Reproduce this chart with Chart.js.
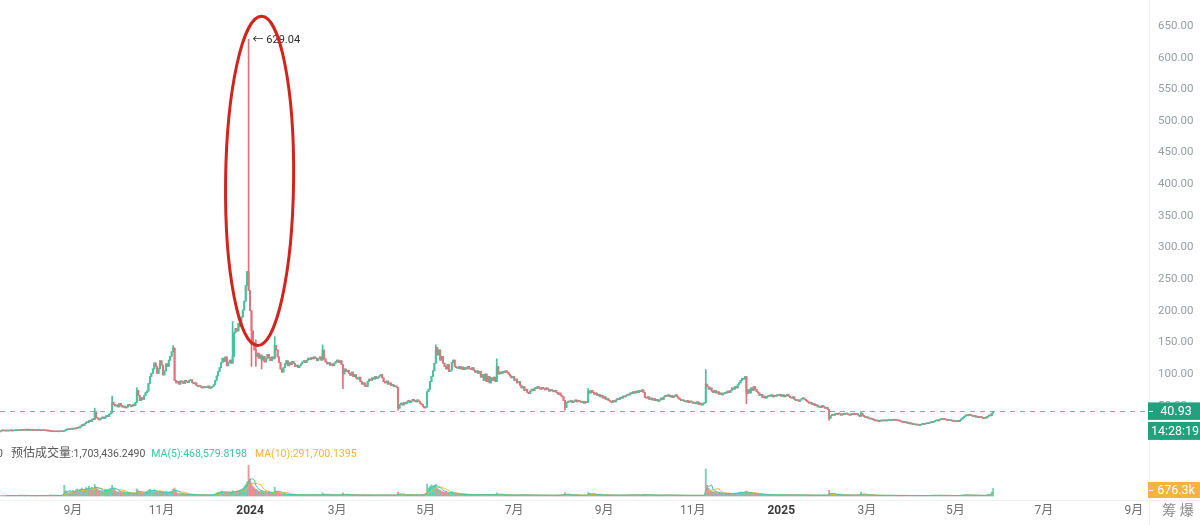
<!DOCTYPE html>
<html>
<head>
<meta charset="utf-8">
<script src="https://cdn.jsdelivr.net/npm/chart.js@4.4.1/dist/chart.umd.min.js"></script>
<style>
html, body { margin: 0; padding: 0; background: #fff; }
#wrap { width: 1200px; height: 525px; }
</style>
</head>
<body>
<div id="wrap"><canvas id="chart" width="1200" height="525"></canvas></div>
<script>
// one candle per day, day 0 = 2023-07-13
const closes = [
    10.2, 10.1, 10.3, 10.2, 10.0, 10.1, 10.4, 10.3, 10.2, 10.5,
    10.6, 10.8, 10.7, 11.0, 11.2, 11.1, 11.3, 11.2, 11.4, 11.3,
    11.1, 11.2, 11.0, 10.9, 11.0, 10.8, 10.9, 10.7, 10.6, 10.8,
    10.5, 10.4, 10.2, 10.0, 9.6, 9.2, 9.0, 8.8, 8.9, 8.7,
    8.8, 9.0, 8.9, 9.3, 10.5, 11.8, 12.6, 12.2, 13.0, 12.8,
    13.5, 13.2, 14.0, 15.8, 14.9, 17.5, 19.6, 18.8, 21.5, 24.0,
    23.1, 26.8, 25.0, 28.5, 28.0, 40.0, 31.0, 29.0, 27.5, 30.2,
    32.0, 29.5, 31.8, 34.5, 33.0, 36.8, 38.5, 55.0, 52.0, 49.5,
    51.0, 48.0, 53.5, 50.5, 47.8, 49.2, 46.5, 48.0, 52.0, 50.0,
    48.5, 51.5, 50.2, 55.0, 74.0, 66.0, 58.0, 62.5, 60.0, 66.0,
    70.5, 73.0, 85.0, 96.0, 101.0, 108.0, 117.5, 112.0, 101.0, 108.5,
    121.0, 114.0, 98.5, 105.0, 116.0, 112.0, 122.0, 128.0, 135.0, 141.0,
    90.0, 86.0, 88.5, 84.0, 89.0, 87.5, 85.0, 90.0, 88.0, 86.5,
    89.5, 91.0, 87.0, 84.5, 86.0, 82.0, 80.0, 81.5, 79.5, 78.0,
    80.0, 78.5, 79.0, 81.0, 77.5, 79.0, 80.5, 83.0, 90.0, 97.0,
    104.0, 110.0, 118.0, 125.0, 120.0, 127.0, 113.0, 118.0, 122.0, 117.0,
    128.0, 165.0, 172.0, 168.0, 180.0, 175.0, 190.0, 201.0, 215.0, 240.0,
    262.0, 232.0, 200.0, 168.0, 150.0, 138.0, 128.0, 133.0, 125.0, 130.0,
    122.0, 128.0, 119.0, 124.0, 131.0, 126.0, 121.0, 127.0, 124.0, 145.0,
    138.0, 127.0, 118.0, 108.0, 103.0, 110.0, 116.0, 121.0, 113.0, 118.0,
    115.0, 120.0, 117.0, 112.0, 114.0, 110.0, 113.0, 116.0, 119.0, 121.0,
    118.0, 122.0, 125.0, 123.0, 126.0, 124.0, 127.0, 125.0, 121.0, 124.0,
    127.0, 122.0, 138.0, 124.0, 119.0, 116.0, 118.0, 114.0, 116.0, 113.0,
    117.0, 120.0, 122.0, 118.0, 121.0, 115.0, 100.0, 108.0, 104.0, 106.0,
    101.0, 98.0, 103.0, 96.0, 99.0, 94.0, 92.0, 95.0, 88.0, 84.0,
    86.0, 81.0, 80.0, 88.0, 92.0, 90.0, 94.0, 92.0, 96.0, 93.0,
    95.0, 97.0, 99.0, 94.0, 88.0, 86.0, 89.0, 84.0, 86.0, 82.0,
    83.0, 80.0, 81.0, 79.0, 46.0, 52.0, 54.0, 51.0, 55.0, 53.0,
    56.0, 58.0, 55.0, 57.0, 60.0, 58.0, 56.0, 59.0, 57.0, 54.0,
    52.0, 49.0, 46.5, 48.0, 72.0, 76.0, 88.0, 96.0, 105.0, 117.0,
    142.0, 130.0, 138.0, 122.0, 128.0, 117.0, 112.0, 108.0, 115.0, 104.0,
    106.0, 118.0, 122.0, 112.0, 110.0, 109.0, 112.0, 108.0, 111.0, 107.0,
    110.0, 108.0, 112.0, 109.0, 107.0, 110.0, 106.0, 103.0, 105.0, 101.0,
    104.0, 95.0, 99.0, 90.0, 100.0, 88.0, 96.0, 86.0, 94.0, 90.0,
    95.0, 88.0, 112.0, 100.0, 103.0, 101.0, 104.0, 102.0, 105.0, 103.0,
    100.0, 97.0, 94.0, 96.0, 90.0, 92.0, 86.0, 88.0, 82.0, 78.0,
    80.0, 74.0, 76.0, 71.0, 69.0, 73.0, 76.0, 74.0, 78.0, 77.0,
    80.0, 78.0, 76.0, 79.0, 77.0, 75.0, 78.0, 76.0, 73.0, 75.0,
    74.0, 72.0, 74.0, 71.0, 68.0, 70.0, 66.0, 64.0, 58.0, 47.0,
    55.0, 57.0, 56.0, 58.0, 55.0, 57.0, 59.0, 56.0, 58.0, 57.0,
    55.0, 57.0, 54.0, 56.0, 55.0, 73.0, 70.0, 74.0, 71.0, 68.0,
    70.0, 66.0, 68.0, 64.0, 66.0, 62.0, 64.0, 60.0, 61.0, 58.0,
    57.0, 55.0, 58.0, 56.0, 59.0, 61.0, 60.0, 63.0, 62.0, 65.0,
    64.0, 66.0, 68.0, 67.0, 70.0, 69.0, 72.0, 70.0, 73.0, 71.0,
    74.0, 72.0, 75.0, 71.0, 63.0, 62.0, 64.0, 60.0, 62.0, 59.0,
    61.0, 58.0, 60.0, 57.0, 59.0, 62.0, 60.0, 64.0, 66.0, 65.0,
    67.0, 64.0, 66.0, 63.0, 65.0, 67.0, 64.0, 62.0, 60.0, 58.0,
    59.0, 57.0, 56.0, 58.0, 55.0, 57.0, 56.0, 54.0, 55.0, 53.0,
    56.0, 52.0, 54.0, 51.0, 53.0, 55.0, 84.0, 80.0, 76.0, 78.0,
    73.0, 71.0, 74.0, 70.0, 72.0, 68.0, 70.0, 67.0, 69.0, 71.0,
    70.0, 73.0, 71.0, 74.0, 78.0, 76.0, 80.0, 78.0, 83.0, 86.0,
    90.0, 93.0, 92.0, 96.0, 69.0, 75.0, 70.0, 78.0, 74.0, 80.0,
    76.0, 72.0, 70.0, 66.0, 68.0, 63.0, 65.0, 62.0, 64.0, 66.0,
    65.0, 67.0, 64.0, 66.0, 65.0, 67.0, 66.0, 68.0, 65.0, 67.0,
    64.0, 66.0, 68.0, 65.0, 63.0, 62.0, 64.0, 60.0, 58.0, 59.0,
    57.0, 59.0, 61.0, 62.0, 60.0, 58.0, 56.0, 54.0, 55.0, 52.0,
    53.0, 50.0, 51.0, 48.0, 49.0, 47.0, 50.0, 48.0, 46.0, 47.0,
    44.0, 30.0, 34.0, 36.0, 35.0, 37.0, 36.0, 38.0, 37.0, 35.0,
    37.0, 36.0, 38.0, 37.0, 36.0, 35.0, 37.0, 36.0, 38.0, 36.0,
    37.0, 35.0, 33.0, 38.0, 34.0, 33.0, 31.0, 32.0, 30.0, 29.0,
    30.0, 28.0, 27.0, 26.0, 27.0, 25.0, 26.0, 27.0, 26.0, 27.0,
    26.0, 27.0, 27.5, 26.5, 27.0, 28.0, 27.0, 27.5, 26.5, 26.0,
    25.5, 24.0, 25.0, 23.0, 24.0, 22.0, 23.0, 21.0, 21.5, 20.0,
    20.5, 19.5, 20.0, 19.0, 20.0, 21.0, 20.5, 21.5, 22.0, 21.5,
    23.0, 24.0, 23.5, 25.0, 26.0, 27.0, 26.0, 28.0, 29.0, 28.0,
    29.0, 28.0, 27.0, 28.0, 26.5, 27.0, 25.5, 26.0, 25.0, 26.0,
    25.0, 27.0, 29.0, 31.0, 33.0, 35.0, 34.0, 36.0, 35.0, 34.0,
    33.0, 34.0, 32.0, 33.0, 31.0, 32.0, 31.5, 30.0, 31.0, 30.5,
    33.0, 35.0, 34.0, 38.0, 40.93
];

// daily volume, thousands
const volumes = [
    90, 120, 80, 100, 70, 110, 140, 95, 85, 130,
    150, 120, 100, 160, 180, 110, 130, 90, 140, 100,
    80, 110, 90, 70, 100, 85, 120, 95, 80, 100,
    110, 90, 130, 150, 200, 180, 140, 120, 100, 90,
    110, 100, 130, 250, 2400, 1200, 900, 700, 1000, 800,
    1300, 900, 1400, 1600, 1100, 1500, 1800, 1200, 1500, 1900,
    1700, 2200, 1500, 1900, 1400, 2600, 2000, 1500, 1200, 1300,
    1100, 1000, 1300, 1500, 1200, 1600, 1700, 2400, 1800, 1200,
    1000, 900, 1100, 800, 700, 900, 600, 700, 800, 600,
    500, 600, 500, 700, 1600, 1200, 800, 700, 600, 800,
    900, 1000, 1300, 1500, 1200, 1100, 1400, 1000, 900, 800,
    1000, 900, 800, 700, 900, 700, 800, 900, 1100, 1500,
    1800, 900, 600, 500, 600, 400, 500, 400, 350, 400,
    300, 350, 300, 250, 280, 300, 250, 200, 220, 260,
    240, 200, 220, 250, 230, 260, 300, 350, 500, 700,
    800, 900, 1000, 1100, 800, 900, 700, 800, 900, 700,
    1200, 900, 1000, 1100, 1200, 1300, 1500, 1700, 2200, 2600,
    3200, 6900, 3800, 2900, 2100, 1800, 1500, 1300, 1100, 1000,
    1200, 900, 800, 900, 700, 800, 600, 700, 600, 2000,
    1100, 800, 700, 600, 500, 400, 450, 400, 350, 300,
    300, 280, 260, 300, 250, 270, 240, 260, 300, 280,
    260, 240, 280, 250, 300, 270, 250, 240, 230, 260,
    280, 300, 700, 400, 300, 250, 270, 240, 230, 220,
    240, 260, 250, 230, 220, 240, 700, 400, 300, 280,
    260, 250, 240, 270, 230, 220, 240, 210, 230, 250,
    220, 240, 230, 210, 200, 220, 190, 210, 200, 190,
    200, 210, 190, 220, 240, 210, 200, 220, 190, 210,
    200, 190, 210, 220, 900, 500, 350, 300, 260, 240,
    220, 250, 230, 210, 240, 220, 200, 230, 210, 250,
    260, 300, 400, 600, 2700, 1800, 2200, 2500, 2000, 2400,
    2600, 1700, 1500, 1300, 1100, 900, 800, 1000, 700, 600,
    700, 800, 600, 500, 450, 400, 420, 380, 400, 350,
    330, 350, 300, 320, 280, 300, 270, 290, 260, 280,
    300, 350, 280, 320, 300, 340, 290, 310, 280, 300,
    320, 300, 700, 400, 300, 280, 260, 240, 250, 230,
    240, 220, 230, 250, 220, 210, 230, 240, 260, 280,
    270, 250, 230, 240, 220, 200, 210, 190, 200, 180,
    190, 180, 200, 170, 180, 190, 170, 180, 160, 170,
    180, 170, 160, 180, 200, 190, 210, 250, 350, 700,
    400, 300, 250, 220, 200, 190, 180, 200, 170, 180,
    170, 180, 160, 170, 180, 900, 600, 450, 400, 350,
    320, 300, 280, 260, 250, 240, 230, 220, 210, 220,
    200, 210, 190, 200, 180, 190, 200, 180, 190, 200,
    210, 220, 230, 210, 240, 250, 230, 260, 240, 220,
    230, 210, 240, 260, 350, 280, 250, 230, 220, 210,
    200, 190, 210, 180, 190, 200, 180, 210, 220, 200,
    210, 190, 200, 180, 190, 200, 170, 180, 160, 170,
    160, 150, 170, 150, 160, 140, 150, 160, 140, 150,
    160, 140, 150, 170, 150, 180, 6100, 2400, 1700, 1300,
    1100, 900, 1000, 800, 700, 750, 600, 650, 500, 550,
    500, 550, 480, 520, 600, 550, 650, 600, 700, 800,
    900, 850, 800, 900, 1100, 700, 600, 650, 550, 500,
    480, 450, 420, 400, 380, 360, 340, 320, 300, 310,
    290, 300, 280, 270, 290, 260, 280, 270, 250, 260,
    250, 240, 260, 230, 240, 250, 230, 240, 220, 230,
    220, 210, 230, 240, 220, 200, 210, 190, 200, 180,
    190, 180, 200, 190, 180, 170, 190, 180, 170, 180,
    250, 1300, 600, 400, 350, 300, 280, 260, 250, 240,
    230, 220, 210, 200, 210, 190, 200, 180, 190, 200,
    210, 230, 300, 900, 400, 300, 250, 230, 210, 200,
    190, 180, 170, 160, 170, 150, 160, 150, 140, 150,
    140, 130, 150, 140, 130, 140, 120, 130, 120, 130,
    120, 130, 140, 120, 130, 110, 120, 110, 100, 110,
    100, 110, 100, 90, 110, 100, 120, 110, 120, 130,
    140, 150, 130, 160, 170, 150, 140, 160, 150, 140,
    130, 140, 120, 130, 110, 120, 110, 100, 110, 120,
    130, 150, 170, 200, 240, 260, 220, 230, 200, 180,
    170, 160, 150, 160, 140, 150, 140, 130, 140, 150,
    300, 400, 350, 900, 1700
];

// candles whose wick reaches past the body
const wickDay  = [65, 77, 94, 119, 160, 171, 173, 176, 180, 189, 222, 236, 274, 300, 342, 389, 405, 486, 514, 571, 593];
const wickHigh = [46, 65, 78, 145, 183, 629.04, null, 154, null, 159, 146, null, null, 146, 124, null, 77, 107, null, null, 40];
const wickLow  = [null, null, null, null, null, null, 112, 112, 108, null, null, 77, 43, null, null, 43, null, null, 53, 27, null];

const monthTicks  = [50, 111, 172, 232, 293, 354, 416, 477, 538, 597, 658, 719, 781];
const monthLabels = ["9月", "11月", "2024", "3月", "5月", "7月", "9月", "11月", "2025", "3月", "5月", "7月", "9月"];
const priceTicks  = [0, 50, 100, 150, 200, 250, 300, 350, 400, 450, 500, 550, 600, 650];

const lastPrice = 40.93;
const lastTime = "14:28:19";
const volBadge = 676.3;
const spikeDay = 171;
const spikeHigh = 629.04;
const volName = "预估成交量";
const volValue = ":1,703,436.2490";
const ma5Title = "MA(5):468,579.8198";
const ma10Title = "MA(10):291,700.1395";

const UP = "#45c29c";
const DOWN = "#e3727a";
const FONT = "Roboto, 'Noto Sans CJK SC', sans-serif";

Chart.defaults.font.family = FONT;
Chart.defaults.animation = false;

const candles = closes.map((c, i) => {
    const o = i === 0 ? c : closes[i - 1];
    let h = Math.max(o, c);
    let l = Math.min(o, c);
    const k = wickDay.indexOf(i);
    if (k >= 0) {
        if (wickHigh[k] !== null) h = wickHigh[k];
        if (wickLow[k] !== null) l = wickLow[k];
    }
    return { x: i, o: o, h: h, l: l, c: c };
});
const candleColors = candles.map((k) => (k.c >= k.o ? UP : DOWN));
const volColors = candles.map((k) => (k.c >= k.o ? "rgba(69,194,156,0.75)" : "rgba(227,114,122,0.75)"));

function movingAverage(values, n) {
    const out = [];
    for (let i = n - 1; i < values.length; i++) {
        let s = 0;
        for (let j = i - n + 1; j <= i; j++) s += values[j];
        out.push({ x: i, y: s / n });
    }
    return out;
}

const overlay = {
    id: "overlay",
    beforeDatasetsDraw(chart) {
        const { ctx, chartArea } = chart;
        const y = chart.scales.y.getPixelForValue(lastPrice);
        ctx.save();
        ctx.strokeStyle = "#5fbfa5";
        ctx.lineWidth = 1;
        ctx.setLineDash([5, 5]);
        ctx.beginPath();
        ctx.moveTo(chartArea.left, Math.round(y) + 0.5);
        ctx.lineTo(chartArea.right, Math.round(y) + 0.5);
        ctx.stroke();
        ctx.restore();
    },
    afterDraw(chart) {
        const { ctx, chartArea } = chart;
        const xs = chart.scales.x;
        const ys = chart.scales.y;
        const yv = chart.scales.yv;
        ctx.save();

        // faint pane borders
        ctx.strokeStyle = "#f0f0f0";
        ctx.lineWidth = 1;
        ctx.beginPath();
        ctx.moveTo(chartArea.right + 1.5, 0);
        ctx.lineTo(chartArea.right + 1.5, 525);
        ctx.moveTo(0, chartArea.bottom + 0.5);
        ctx.lineTo(1200, chartArea.bottom + 0.5);
        ctx.stroke();

        // spike label
        const sx = xs.getPixelForValue(spikeDay);
        const sy = ys.getPixelForValue(spikeHigh);
        ctx.fillStyle = "#2b2b2b";
        ctx.font = "11px " + FONT;
        ctx.textBaseline = "middle";
        ctx.textAlign = "left";
        ctx.fillText("← " + spikeHigh.toFixed(2), sx + 4, sy + 0.5);

        // red ellipse round the spike
        const top = sy - 23;
        const bottom = ys.getPixelForValue(145);
        ctx.strokeStyle = "#d2241c";
        ctx.lineWidth = 3;
        ctx.beginPath();
        ctx.ellipse(sx + 11, (top + bottom) / 2, 34, (bottom - top) / 2, 0.012, 0, Math.PI * 2);
        ctx.stroke();

        // volume legend
        ctx.fillStyle = "#555";
        ctx.font = "10.5px " + FONT;
        ctx.fillText("0", -3, 454);
        ctx.font = "12px " + FONT;
        ctx.fillText(volName, 11, 454);
        let lx = 11 + ctx.measureText(volName).width;
        ctx.font = "10.5px " + FONT;
        ctx.fillText(volValue, lx, 454);
        lx = Math.max(146, lx + ctx.measureText(volValue).width + 6);
        ctx.fillStyle = "#3cc4a3";
        ctx.fillText(ma5Title, lx, 454);
        lx = Math.max(250, lx + ctx.measureText(ma5Title).width + 8);
        ctx.fillStyle = "#f2b33d";
        ctx.fillText(ma10Title, lx, 454);

        // right badges
        const bx = chartArea.right;
        const bw = 1200 - bx;
        const py = ys.getPixelForValue(lastPrice);
        ctx.fillStyle = "#23a07c";
        ctx.fillRect(bx, py - 9, bw, 17.5);
        ctx.fillRect(bx, py + 10.5, bw, 18);
        const vy = yv.getPixelForValue(volBadge) - 3;
        ctx.fillStyle = "#f5b340";
        ctx.fillRect(bx, vy - 8, bw, 16);
        ctx.fillStyle = "#fff";
        ctx.fillRect(bx + 1, Math.round(py), 4, 1);
        ctx.fillRect(bx + 1, Math.round(vy), 4, 1);
        ctx.font = "12.5px " + FONT;
        ctx.textAlign = "center";
        ctx.fillText(lastPrice.toFixed(2), bx + bw / 2 + 2, py + 0.5);
        ctx.fillText(lastTime, bx + bw / 2 + 1, py + 20);
        ctx.fillText(volBadge.toFixed(1) + "k", bx + bw / 2 + 2, vy + 0.5);

        ctx.fillStyle = "#8a8a8a";
        ctx.font = "14px " + FONT;
        ctx.fillText("筹 爆", 1178, 511);
        ctx.restore();
    }
};

new Chart(document.getElementById("chart"), {
    type: "bar",
    data: {
        datasets: [
            {
                label: "body",
                data: candles.map((k) => ({ x: k.x, y: [k.o, k.c] })),
                backgroundColor: candleColors,
                barThickness: 1.3,
                minBarLength: 1,
                grouped: false,
                yAxisID: "y"
            },
            {
                label: "wick",
                data: candles.map((k) => ({ x: k.x, y: [k.l, k.h] })),
                backgroundColor: candleColors,
                barThickness: 1,
                grouped: false,
                yAxisID: "y"
            },
            {
                type: "line",
                label: "MA5",
                data: movingAverage(volumes, 5),
                borderColor: "#3cc4a3",
                borderWidth: 1,
                pointRadius: 0,
                yAxisID: "yv"
            },
            {
                type: "line",
                label: "MA10",
                data: movingAverage(volumes, 10),
                borderColor: "#f2b33d",
                borderWidth: 1,
                pointRadius: 0,
                yAxisID: "yv"
            },
            {
                label: "volume",
                data: volumes.map((v, i) => ({ x: i, y: v })),
                backgroundColor: volColors,
                barThickness: 1.2,
                grouped: false,
                yAxisID: "yv"
            }
        ]
    },
    options: {
        responsive: false,
        layout: { padding: 0 },
        plugins: {
            legend: { display: false },
            tooltip: { enabled: false }
        },
        scales: {
            x: {
                type: "linear",
                offset: false,
                min: -0.28,
                max: 790.7,
                grid: { display: false, drawTicks: false },
                border: { display: false },
                afterBuildTicks(scale) {
                    scale.ticks = monthTicks.map((v) => ({ value: v }));
                },
                afterFit(scale) {
                    scale.height = 25;
                    scale.paddingLeft = 0;
                    scale.paddingRight = 0;
                },
                ticks: {
                    autoSkip: false,
                    maxRotation: 0,
                    padding: 4,
                    callback: (v) => monthLabels[monthTicks.indexOf(v)],
                    color: (ctx) => (/^\d{4}$/.test(monthLabels[ctx.index]) ? "#3a3a3a" : "#6e6e6e"),
                    font: (ctx) => ({
                        size: 12,
                        weight: /^\d{4}$/.test(monthLabels[ctx.index]) ? "bold" : "normal"
                    })
                }
            },
            y: {
                position: "right",
                min: -99.1,
                max: 691.1,
                grid: { display: false, drawTicks: false },
                border: { display: false },
                afterBuildTicks(scale) {
                    scale.ticks = priceTicks.map((v) => ({ value: v }));
                },
                afterFit(scale) {
                    scale.width = 52;
                    scale.paddingTop = 0;
                    scale.paddingBottom = 0;
                },
                ticks: {
                    autoSkip: false,
                    padding: 10,
                    color: "#979ca5",
                    font: { size: 11.5 },
                    callback: (v) => v.toFixed(2)
                }
            },
            yv: {
                display: false,
                min: -900,
                max: 111600
            }
        }
    },
    plugins: [overlay]
});
</script>
</body>
</html>
